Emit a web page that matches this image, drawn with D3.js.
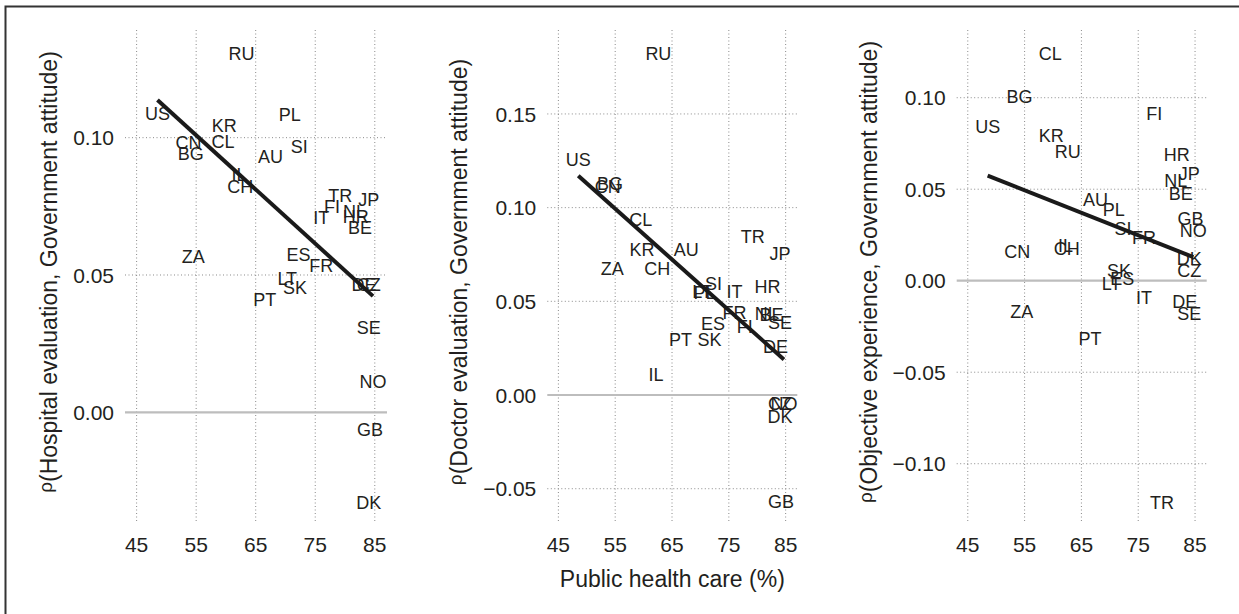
<!DOCTYPE html>
<html>
<head>
<meta charset="utf-8">
<script src="https://cdn.jsdelivr.net/npm/d3@7"></script>
<style>
  body { margin: 0; background: #fff; }
  svg { display: block; font-family: "Liberation Sans", Arial, sans-serif; }
  .tick_label { font-size: 21px; fill: #231f20; }
  .country { font-size: 18px; fill: #231f20; }
  .axis_title { font-size: 23px; fill: #231f20; }
</style>
</head>
<body>
<svg id="chart"></svg>
<script>
// country codes, share of public health care (%) and the three correlations
const countries = ["AU", "BE", "BG", "CH", "CL", "CN", "CZ", "DE", "DK", "ES",
                   "FI", "FR", "GB", "HR", "IL", "IT", "JP", "KR", "LT", "NL",
                   "NO", "PL", "PT", "RU", "SE", "SI", "SK", "TR", "US", "ZA"];
const publicCare = [67.5, 82.5, 54.1, 62.4, 59.5, 53.7, 84.0, 83.2, 84.0, 72.2,
                    77.8, 76.0, 84.2, 81.8, 62.2, 76.0, 84.0, 59.7, 70.3, 81.6,
                    84.7, 70.7, 66.5, 62.6, 84.0, 72.3, 71.6, 79.2, 48.5, 54.5];
const rhoHospital = [0.0933, 0.0674, 0.0941, 0.0822, 0.0985, 0.0982, 0.0467, 0.0467, -0.0328, 0.0576,
                     0.0751, 0.0533, -0.0064, 0.0712, 0.0864, 0.0710, 0.0776, 0.1046, 0.0488, 0.0731,
                     0.0111, 0.1086, 0.0409, 0.1307, 0.0310, 0.0967, 0.0455, 0.0791, 0.1089, 0.0567];
const rhoDoctor = [0.0774, 0.0432, 0.1130, 0.0676, 0.0937, 0.1111, -0.0044, 0.0258, -0.0116, 0.0383,
                   0.0365, 0.0439, -0.0569, 0.0578, 0.0107, 0.0551, 0.0756, 0.0777, 0.0551, 0.0435,
                   -0.0044, 0.0545, 0.0297, 0.1823, 0.0386, 0.0596, 0.0297, 0.0845, 0.1258, 0.0676];
const rhoExperience = [0.0445, 0.0474, 0.1009, 0.0177, 0.1243, 0.0158, 0.0055, -0.0115, 0.0122, 0.0013,
                       0.0915, 0.0237, 0.0341, 0.0692, 0.0195, -0.0093, 0.0587, 0.0791, -0.0014, 0.0550,
                       0.0273, 0.0390, -0.0315, 0.0705, -0.0182, 0.0286, 0.0058, -0.1211, 0.0842, -0.0169];

// fitted lines: [x, y] at both ends
const fitHospital = [[48.5, 0.1137], [84.7, 0.0423]];
const fitDoctor = [[48.5, 0.1170], [84.7, 0.0190]];
const fitExperience = [[48.5, 0.0574], [84.7, 0.0129]];

const xTicks = [45, 55, 65, 75, 85];
const yTicksHospital = [0.00, 0.05, 0.10];
const yTicksDoctor = [-0.05, 0.00, 0.05, 0.10, 0.15];
const yTicksExperience = [-0.10, -0.05, 0.00, 0.05, 0.10];

const yTitles = ["Hospital evaluation, Government attitude",
                 "Doctor evaluation, Government attitude",
                 "Objective experience, Government attitude"];
const xTitle = "Public health care (%)";

const width = 1239, height = 614;
const top_y = 30, bottom_y = 523;

const panels = [
    { left: 125, right: 387, yDomain: [-0.0403, 0.1392], yTicks: yTicksHospital, values: rhoHospital, fit: fitHospital, title: yTitles[0], titleX: 48 },
    { left: 547.3, right: 797.3, yDomain: [-0.0683, 0.1948], yTicks: yTicksDoctor, values: rhoDoctor, fit: fitDoctor, title: yTitles[1], titleX: 458 },
    { left: 956.7, right: 1206.7, yDomain: [-0.1324, 0.1370], yTicks: yTicksExperience, values: rhoExperience, fit: fitExperience, title: yTitles[2], titleX: 868 }
];

const svg = d3.select("#chart").attr("width", width).attr("height", height);

// outer frame
svg.append("rect")
    .attr("x", 5.5).attr("y", 6.5)
    .attr("width", width + 10).attr("height", height + 10)
    .attr("fill", "none").attr("stroke", "#333").attr("stroke-width", 2);

const fmt = d3.format(".2f");

panels.forEach(function(p, k) {
    const x = d3.scaleLinear().domain([43.05, 87.05]).range([p.left, p.right]);
    const y = d3.scaleLinear().domain(p.yDomain).range([bottom_y, top_y]);
    const g = svg.append("g").attr("class", "panel");

    // dotted grid
    g.selectAll("line.vgrid")
        .data(xTicks)
        .enter()
        .append("line")
        .attr("class", "vgrid")
        .attr("x1", d => x(d)).attr("x2", d => x(d))
        .attr("y1", top_y).attr("y2", bottom_y)
        .attr("stroke", "#8a8a8a").attr("stroke-width", 1)
        .attr("stroke-dasharray", "1,2.5");

    g.selectAll("line.hgrid")
        .data(p.yTicks.filter(d => d !== 0))
        .enter()
        .append("line")
        .attr("class", "hgrid")
        .attr("x1", p.left).attr("x2", p.right)
        .attr("y1", d => y(d)).attr("y2", d => y(d))
        .attr("stroke", "#8a8a8a").attr("stroke-width", 1)
        .attr("stroke-dasharray", "1,2.5");

    // zero line
    g.append("line")
        .attr("x1", p.left).attr("x2", p.right)
        .attr("y1", y(0)).attr("y2", y(0))
        .attr("stroke", "#bdbdbd").attr("stroke-width", 2.2);

    // tick labels
    g.selectAll("text.xtick")
        .data(xTicks)
        .enter()
        .append("text")
        .attr("class", "tick_label")
        .attr("x", d => x(d))
        .attr("y", 552)
        .attr("text-anchor", "middle")
        .text(d => d);

    g.selectAll("text.ytick")
        .data(p.yTicks)
        .enter()
        .append("text")
        .attr("class", "tick_label")
        .attr("x", p.left - 11)
        .attr("y", d => y(d))
        .attr("dy", "0.36em")
        .attr("text-anchor", "end")
        .text(d => fmt(d));

    // country labels
    g.selectAll("text.country")
        .data(countries)
        .enter()
        .append("text")
        .attr("class", "country")
        .attr("x", (d, i) => x(publicCare[i]))
        .attr("y", (d, i) => y(p.values[i]))
        .attr("dy", "0.36em")
        .attr("text-anchor", "middle")
        .text(d => d);

    // fitted line
    g.append("line")
        .attr("x1", x(p.fit[0][0])).attr("y1", y(p.fit[0][1]))
        .attr("x2", x(p.fit[1][0])).attr("y2", y(p.fit[1][1]))
        .attr("stroke", "#1a1a1a").attr("stroke-width", 4);

    // y title
    const t = g.append("text")
        .attr("class", "axis_title")
        .attr("text-anchor", "middle")
        .attr("transform", "translate(" + (p.titleX + 8) + "," + 272 + ") rotate(-90)");
    t.append("tspan").attr("font-size", "19px").attr("dy", "-0.2em").text("\u03c1");
    t.append("tspan").attr("dy", "0.2em").text("(" + p.title + ")");

    if (k === 1) {
        g.append("text")
            .attr("class", "axis_title")
            .attr("x", (p.left + p.right) / 2)
            .attr("y", 587)
            .attr("text-anchor", "middle")
            .text(xTitle);
    }
});
</script>
</body>
</html>
